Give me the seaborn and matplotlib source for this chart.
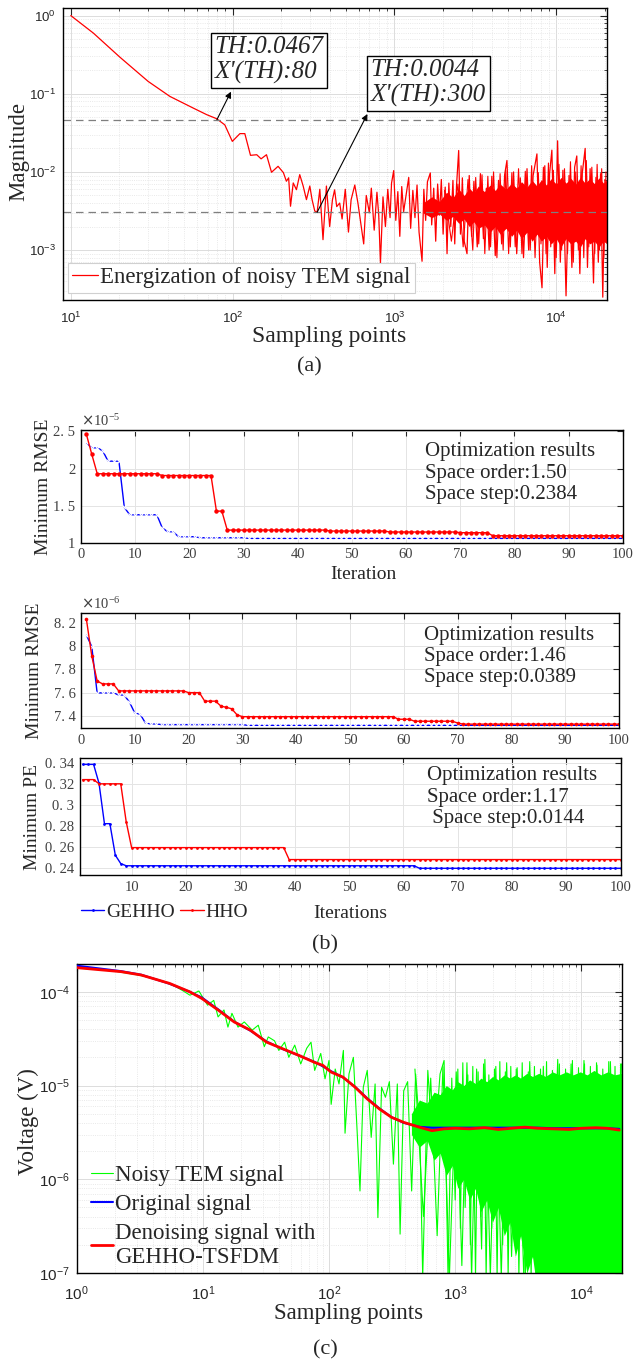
import numpy as np
import matplotlib
matplotlib.use("Agg")
import matplotlib.pyplot as plt
import seaborn as sns
from matplotlib.ticker import FixedLocator, FixedFormatter, LogLocator, NullFormatter

# ---------------- data: panel (a) ----------------
a_x_decay = [10, 13.8, 20.1, 30.1, 41, 57.1, 69.2, 79.6, 89.5, 99.6,
             111, 119, 129, 141, 150, 162, 174, 191, 206, 215,
             222, 228, 237, 248, 260, 273, 286, 300, 310, 322,
             333, 346, 362, 380, 398, 414, 427, 440, 459, 475,
             497, 520, 540, 569, 595]
a_y_decay = [1.0, 0.596, 0.294, 0.1436, 0.0924, 0.0656, 0.054, 0.048, 0.040, 0.0246,
             0.0309, 0.0309, 0.0163, 0.0166, 0.0147, 0.0166, 0.0099, 0.0118, 0.0098, 0.0076,
             0.0084, 0.00364, 0.00723, 0.00593, 0.00923, 0.0066, 0.00442, 0.0066, 0.0044, 0.00316,
             0.00305, 0.0060, 0.00136, 0.0066, 0.0020, 0.0044, 0.0059, 0.0036, 0.0040, 0.0025,
             0.0060, 0.0017, 0.0044, 0.0068, 0.0040]
a_x_noise = [620, 646, 670, 700, 720, 750, 780, 800, 820, 850,
             880, 910, 940, 960, 990, 1020, 1050, 1080, 1110, 1140,
             1180, 1226, 1260, 1300, 1340, 1380, 1420, 1482, 1520, 1560,
             1600, 1667, 1700, 1750, 1800, 1850, 1900, 1950, 2000, 2060,
             2115, 2170, 2230, 2300, 2360, 2420, 2496, 2560, 2630, 2700,
             2810, 2900, 3000, 3100, 3250, 3400, 3550, 3700, 3850, 4000,
             4200, 4400, 4600, 4800, 4960, 5200, 5450, 5700, 6000, 6280,
             6600, 6900, 7200, 7600, 7900, 8170, 8500, 8800, 9100, 9400,
             9800, 10200, 10600, 11000, 11500, 12000, 12500, 13000, 13400, 14000,
             14500, 15100, 15600, 16200, 17000, 17600, 18200, 18800, 19400, 20000]
a_y_noise = [0.0022, 0.0012, 0.0050, 0.0030, 0.0062, 0.0018, 0.0055, 0.0028, 0.00069, 0.0048,
             0.0020, 0.0060, 0.0026, 0.0072, 0.0104, 0.0024, 0.0056, 0.0015, 0.0065, 0.0031,
             0.0050, 0.0085, 0.0019, 0.0058, 0.0026, 0.0068, 0.0017, 0.00072, 0.0060, 0.0024,
             0.0075, 0.0097, 0.0021, 0.0062, 0.0013, 0.0070, 0.0028, 0.0080, 0.0016, 0.0064,
             0.0009, 0.0072, 0.0020, 0.0078, 0.0012, 0.0066, 0.0188, 0.0016, 0.0084, 0.0013,
             0.0009, 0.0090, 0.0015, 0.0076, 0.0011, 0.0095, 0.0014, 0.0062, 0.0010, 0.0088,
             0.00085, 0.0078, 0.0012, 0.0092, 0.0140, 0.0011, 0.0100, 0.0009, 0.0084, 0.0008,
             0.0110, 0.0010, 0.0090, 0.0170, 0.0007, 0.00033, 0.0120, 0.0006, 0.0095, 0.0190,
             0.0005, 0.0250, 0.0007, 0.0105, 0.00026, 0.0090, 0.0006, 0.0115, 0.0160, 0.0005,
             0.0098, 0.0200, 0.0006, 0.0110, 0.00038, 0.0085, 0.0007, 0.0095, 0.00025, 0.0080]
# second pass of spikes in the dense right part
a_x_noise2 = [2040, 2250, 2470, 2660, 2850, 3050, 3180, 3320, 3480, 3620,
              3780, 3930, 4100, 4300, 4500, 4700, 4880, 5080, 5320, 5580,
              5850, 6140, 6440, 6750, 7050, 7400, 7750, 8050, 8330, 8650,
              8950, 9250, 9600, 10000, 10400, 10800, 11250, 11750, 12250, 12750,
              13200, 13700, 14250, 14800, 15350, 15900, 16600, 17300, 17900, 18500,
              19100, 19700, 20300]
a_y_noise2 = [0.0058, 0.0013, 0.0070, 0.0011, 0.0080, 0.0010, 0.0085, 0.0012, 0.0092, 0.0009,
              0.0088, 0.0011, 0.0100, 0.0008, 0.0095, 0.0010, 0.0105, 0.0009, 0.0098, 0.0011,
              0.0110, 0.0009, 0.0102, 0.0010, 0.0120, 0.0008, 0.0098, 0.0012, 0.0115, 0.0009,
              0.0130, 0.0011, 0.0105, 0.0008, 0.0125, 0.0010, 0.0110, 0.0009, 0.0135, 0.0007,
              0.0100, 0.0010, 0.0120, 0.0008, 0.0140, 0.0011, 0.0115, 0.0009, 0.0125, 0.0010,
              0.0110, 0.0008, 0.0100]
# dense core of the noise (jagged envelope)
a_band_x = [1500, 1700, 1900, 2100, 2300, 2500, 2700, 2900, 3100, 3300,
            3600, 3900, 4200, 4500, 4900, 5300, 5700, 6100, 6600, 7100,
            7600, 8100, 8700, 9300, 10000, 10700, 11500, 12300, 13200, 14100,
            15100, 16100, 17200, 18400, 19600, 20600]
a_band_hi = [0.0040, 0.0048, 0.0042, 0.0055, 0.0047, 0.0060, 0.0050, 0.0062, 0.0054, 0.0066,
             0.0056, 0.0068, 0.0058, 0.0070, 0.0060, 0.0072, 0.0062, 0.0075, 0.0064, 0.0078,
             0.0066, 0.0080, 0.0068, 0.0082, 0.0070, 0.0085, 0.0072, 0.0083, 0.0070, 0.0085,
             0.0072, 0.0082, 0.0071, 0.0084, 0.0072, 0.0080]
a_band_lo = [0.0030, 0.0026, 0.0029, 0.0024, 0.0027, 0.0022, 0.0025, 0.0020, 0.0023, 0.0019,
             0.0021, 0.0017, 0.0020, 0.0016, 0.0019, 0.0015, 0.0018, 0.0014, 0.0017, 0.0013,
             0.0016, 0.0013, 0.0015, 0.0012, 0.0014, 0.0011, 0.0014, 0.0012, 0.0013, 0.0011,
             0.0014, 0.0012, 0.0013, 0.0011, 0.0013, 0.0012]
th_x = [80, 333]
th_y = [0.0467, 0.00305]
th_labels = ["TH:0.0467\nX'(TH):80", "TH:0.0044\nX'(TH):300"]

# ---------------- data: panel (b) (run-length: value, count) ----------------
iters = np.arange(1, 101)
b1_hho_v = [2.46, 2.19, 1.93, 1.906, 1.426, 1.17, 1.157, 1.144, 1.135, 1.094]   # x1e-5
b1_hho_n = [1, 1, 12, 10, 2, 19, 11, 13, 6, 25]
b1_ge_v = [2.336, 2.28, 2.24, 2.10, 1.475, 1.377, 1.20, 1.148, 1.081, 1.067, 1.058]
b1_ge_n = [1, 2, 1, 3, 1, 6, 1, 2, 4, 9, 70]
b2_hho_v = [8.23, 7.915, 7.70, 7.675, 7.615, 7.60, 7.527, 7.485, 7.474, 7.462,
            7.41, 7.394, 7.372, 7.355, 7.34, 7.33]                               # x1e-6
b2_hho_n = [1, 1, 1, 3, 13, 3, 3, 1, 1, 1, 1, 29, 3, 8, 1, 30]
b2_ge_v = [8.093, 7.995, 7.598, 7.58, 7.52, 7.425, 7.415, 7.338, 7.332, 7.326, 7.32]
b2_ge_n = [1, 1, 4, 2, 1, 1, 1, 1, 2, 16, 70]
b3_hho_v = [0.3245, 0.3205, 0.2845, 0.2597, 0.2483]
b3_hho_n = [3, 5, 1, 29, 62]
b3_ge_v = [0.339, 0.321, 0.2825, 0.2525, 0.2445, 0.2424, 0.2400]
b3_ge_n = [3, 1, 2, 1, 1, 54, 38]
b_texts = ["Optimization results\nSpace order:1.50\nSpace step:0.2384",
           "Optimization results\nSpace order:1.46\nSpace step:0.0389",
           "Optimization results\nSpace order:1.17\n Space step:0.0144"]

# ---------------- data: panel (c) ----------------
c_x = [1, 2.25, 3.25, 5.44, 7.87, 9.8, 13.2, 17.7, 23.8, 31.9,
       42.9, 57.5, 77.3, 89.5, 104, 129, 161, 201, 251, 313,
       391, 525, 655, 817, 1000, 1300, 1706, 2200, 2800, 3565,
       4500, 6000, 8000, 10000, 13000, 16000, 20000]
c_red = [1.81e-4, 1.64e-4, 1.51e-4, 1.23e-4, 1.0e-4, 8.5e-5, 6.4e-5, 4.77e-5, 3.9e-5, 2.91e-5,
         2.47e-5, 2.1e-5, 1.76e-5, 1.64e-5, 1.39e-5, 1.23e-5, 9.6e-6, 7.2e-6, 5.62e-6, 4.58e-6,
         4.05e-6, 3.58e-6, 3.3e-6, 3.45e-6, 3.5e-6, 3.45e-6, 3.55e-6, 3.4e-6, 3.5e-6, 3.6e-6,
         3.5e-6, 3.45e-6, 3.4e-6, 3.5e-6, 3.55e-6, 3.5e-6, 3.35e-6]
c_blue = [1.9e-4, 1.66e-4, 1.52e-4, 1.22e-4, 1.0e-4, 8.7e-5, 6.5e-5, 4.8e-5, 3.85e-5, 2.95e-5,
          2.45e-5, 2.1e-5, 1.78e-5, 1.6e-5, 1.42e-5, 1.22e-5, 9.7e-6, 7.3e-6, 5.7e-6, 4.6e-6,
          4.0e-6, 3.62e-6, 3.55e-6, 3.55e-6, 3.55e-6, 3.55e-6, 3.55e-6, 3.55e-6, 3.55e-6, 3.55e-6,
          3.55e-6, 3.5e-6, 3.5e-6, 3.5e-6, 3.5e-6, 3.5e-6, 3.45e-6]
c_green_x = [1, 1.5, 2, 3, 4, 5, 6, 7, 7.9, 9.3,
             10.9, 12.2, 13.2, 14.7, 15.8, 17, 19, 21.3, 24.6, 27.5,
             30.7, 33, 37, 40, 44.5, 48, 53.5, 59.7, 66.6, 72,
             77, 86, 93, 100, 104, 112, 120, 130, 134, 144,
             156, 167, 176, 187, 201, 216, 232, 244, 261, 280,
             301, 324, 348, 366, 391, 420, 452, 486, 525, 553,
             607, 677, 759, 817, 878]
c_green_y = [1.80e-4, 1.72e-4, 1.66e-4, 1.52e-4, 1.40e-4, 1.27e-4, 1.15e-4, 1.02e-4, 9.2e-5, 1.02e-4,
             7.2e-5, 8.1e-5, 5.4e-5, 6.4e-5, 4.2e-5, 5.9e-5, 4.2e-5, 4.77e-5, 3.9e-5, 4.4e-5,
             2.6e-5, 3.3e-5, 3.0e-5, 2.37e-5, 2.9e-5, 2.0e-5, 2.7e-5, 1.7e-5, 2.5e-5, 2.9e-5,
             1.45e-5, 2.2e-5, 1.18e-5, 1.85e-5, 6.3e-6, 1.5e-5, 1.04e-5, 2.37e-5, 3.1e-6, 1.33e-5,
             2.0e-5, 3.3e-6, 7.5e-7, 9.6e-6, 1.45e-5, 2.8e-6, 1.04e-5, 3.9e-7, 9.6e-6, 7.5e-6,
             1.1e-5, 1.45e-6, 1.04e-5, 2.6e-7, 8.8e-6, 1.1e-5, 7.5e-7, 1.33e-5, 3.3e-6, 9e-8,
             1.45e-5, 1.7e-6, 1.33e-5, 1.85e-5, 9e-8]
c_noise_x = [940, 1000, 1050, 1100, 1150, 1200, 1260, 1320, 1380, 1450,
             1520, 1600, 1680, 1760, 1850, 1950, 2050, 2150, 2260, 2380,
             2500, 2630, 2760, 2900, 3050, 3200, 3400, 3600, 3800, 4000,
             4250, 4500, 4750, 5000, 5300, 5600, 5900, 6300, 6700, 7100,
             7500, 8000, 8500, 9000, 9500, 10000, 10600, 11200, 11800, 12500,
             13200, 14000, 14800, 15600, 16500, 17500, 18500, 19500, 20500]
c_noise_y = [1.2e-5, 6e-7, 1.5e-5, 3e-7, 1.75e-5, 5e-7, 1.3e-5, 2e-7, 1.6e-5, 9e-8,
             1.4e-5, 4e-7, 1.7e-5, 9e-8, 1.3e-5, 3e-7, 1.5e-5, 9e-8, 1.8e-5, 2e-7,
             1.4e-5, 9e-8, 1.6e-5, 3e-7, 1.5e-5, 9e-8, 1.75e-5, 9e-8, 1.4e-5, 9e-8,
             1.6e-5, 9e-8, 1.5e-5, 9e-8, 1.8e-5, 9e-8, 1.45e-5, 9e-8, 1.7e-5, 9e-8,
             1.5e-5, 9e-8, 1.85e-5, 9e-8, 1.55e-5, 9e-8, 1.7e-5, 9e-8, 1.6e-5, 9e-8,
             1.75e-5, 9e-8, 1.5e-5, 9e-8, 1.8e-5, 9e-8, 1.6e-5, 9e-8, 1.7e-5]
c_noise2_x = [480, 560, 640, 720, 800, 900, 1020, 1130, 1240, 1350,
              1480, 1620, 1720, 1900, 2100, 2320, 2560, 2800, 3100, 3500,
              3900, 4400, 5000, 5700, 6500, 7300, 8300, 9300, 10500, 11800,
              13300, 15000, 17000, 19000, 20800]
c_noise2_y = [1.5e-5, 4e-7, 1.2e-5, 2.5e-7, 1.6e-5, 9e-8, 1.4e-5, 1.2e-7, 1.75e-5, 9e-8,
              1.5e-5, 1.8e-7, 1.9e-5, 9e-8, 1.6e-5, 9e-8, 1.75e-5, 1.5e-7, 1.55e-5, 9e-8,
              1.8e-5, 9e-8, 1.6e-5, 9e-8, 1.9e-5, 9e-8, 1.7e-5, 9e-8, 1.85e-5, 9e-8,
              1.65e-5, 9e-8, 1.8e-5, 9e-8, 1.7e-5]
c_band_x = [450, 520, 600, 680, 760, 850, 950, 1050, 1170, 1300,
            1450, 1600, 1780, 1980, 2200, 2450, 2720, 3000, 3300, 3700,
            4100, 4600, 5200, 5900, 6700, 7600, 8600, 9800, 11100, 12600,
            14300, 16200, 18400, 20900]
c_band_hi = [5e-6, 7e-6, 6.5e-6, 8.5e-6, 8e-6, 1.0e-5, 9e-6, 1.1e-5, 1.0e-5, 1.15e-5,
             1.05e-5, 1.2e-5, 1.1e-5, 1.25e-5, 1.15e-5, 1.3e-5, 1.2e-5, 1.3e-5, 1.2e-5, 1.35e-5,
             1.25e-5, 1.35e-5, 1.25e-5, 1.4e-5, 1.3e-5, 1.4e-5, 1.3e-5, 1.4e-5, 1.3e-5, 1.45e-5,
             1.3e-5, 1.4e-5, 1.3e-5, 1.35e-5]
c_band_lo = [3e-6, 2.2e-6, 2.6e-6, 1.6e-6, 1.9e-6, 1.1e-6, 1.4e-6, 8e-7, 1.0e-6, 6e-7,
             8e-7, 4.5e-7, 6e-7, 3.5e-7, 5e-7, 2.5e-7, 3.5e-7, 1.5e-7, 2.5e-7, 1.0e-7,
             1.5e-7, 5e-8, 8e-8, 5e-8, 5e-8, 5e-8, 5e-8, 5e-8, 5e-8, 5e-8,
             5e-8, 5e-8, 5e-8, 5e-8]

# ---------------- style ----------------
sns.set_theme(style="white")
plt.rcParams['font.family'] = ['Liberation Serif', 'DejaVu Serif']
plt.rcParams['axes.edgecolor'] = 'black'
plt.rcParams['axes.facecolor'] = 'white'

W, H = 633, 1363
fig = plt.figure(figsize=(W / 100, H / 100), dpi=100)
fig.patch.set_facecolor('white')


def rect(l, r, t, b):
    return [l / W, 1 - b / H, (r - l) / W, (b - t) / H]


def log_style(ax, lsize):
    ax.xaxis.set_minor_locator(LogLocator(base=10, subs=np.arange(2, 10), numticks=30))
    ax.yaxis.set_minor_locator(LogLocator(base=10, subs=np.arange(2, 10), numticks=30))
    ax.xaxis.set_minor_formatter(NullFormatter())
    ax.yaxis.set_minor_formatter(NullFormatter())
    ax.tick_params(which='both', direction='in', top=True, right=True,
                   labelfontfamily='Liberation Sans', labelsize=lsize, labelcolor='#262626')
    ax.tick_params(which='major', length=5, width=0.8, pad=5)
    ax.tick_params(axis='x', which='major', pad=8)
    ax.tick_params(which='minor', length=2.5, width=0.6)
    ax.grid(True, which='major', color='#dcdcdc', lw=0.7)
    ax.grid(True, which='minor', color='#e2e2e2', lw=0.6, ls=':')
    for s in ax.spines.values():
        s.set_color('black')
        s.set_linewidth(1.0)


# ---------------- panel (a) ----------------
axA = fig.add_axes(rect(62.6, 607, 8, 300))
axA.set_xscale('log')
axA.set_yscale('log')
axA.fill_between(a_band_x, a_band_lo, a_band_hi, color='red', lw=0, zorder=1.5)
sns.lineplot(x=a_x_noise2, y=a_y_noise2, ax=axA, color='red', lw=0.8,
             estimator=None, sort=False, zorder=1.9)
sns.lineplot(x=a_x_decay + a_x_noise, y=a_y_decay + a_y_noise, ax=axA, color='red',
             lw=0.9, estimator=None, sort=False, label='Energization of noisy TEM signal', zorder=2)
for yv in th_y:
    axA.axhline(yv, color='#7f7f7f', ls=(0, (6, 4)), lw=0.9, zorder=2.5)
axA.set_xlim(8.9, 20600)
axA.set_ylim(2.3e-4, 1.25)
log_style(axA, 9.5)
axA.set_xlabel('Sampling points', fontsize=17)
axA.set_ylabel('Magnitude', fontsize=16.5)
axA.xaxis.set_label_coords(0.489, -0.088)
axA.yaxis.set_label_coords(-0.0617, 0.507)
hA, lA = axA.get_legend_handles_labels()
leg = axA.legend(hA[-1:], lA[-1:], loc='lower left', bbox_to_anchor=(0.0096, 0.024),
                 borderaxespad=0, fontsize=16.5, borderpad=0.2, handlelength=1.1,
                 handletextpad=0.1, frameon=True, fancybox=False, framealpha=1)
leg.get_frame().set_edgecolor('#d0d0d0')
leg.get_frame().set_linewidth(0.8)
# annotation boxes and arrows
box_pos = [(0.279, 0.821), (0.566, 0.743)]
head_pos = [(0.3093, 0.7134), (0.5599, 0.637)]
for (tx, ty), (hx, hy), xv, yv, lab in zip(box_pos, head_pos, th_x, th_y, th_labels):
    axA.annotate('', xy=(hx, hy), xycoords='axes fraction', xytext=(xv, yv), textcoords='data',
                 arrowprops=dict(arrowstyle='-|>', color='black', lw=0.8, shrinkA=0, shrinkB=0,
                                 mutation_scale=9), zorder=5)
    axA.text(tx, ty, lab, transform=axA.transAxes, ha='left', va='center', fontsize=18,
             fontstyle='italic', linespacing=1.15, zorder=6,
             bbox=dict(boxstyle='square,pad=0.15', fc='white', ec='black', lw=1.0))
fig.text(309 / W, 1 - 367 / H, '(a)', ha='center', va='center', fontsize=16)


# ---------------- panel (b) ----------------
def b_style(ax, yticks, ylabels, ylim, xticks, xlim):
    ax.set_xlim(*xlim)
    ax.set_ylim(*ylim)
    ax.yaxis.set_major_locator(FixedLocator(yticks))
    ax.yaxis.set_major_formatter(FixedFormatter(ylabels))
    ax.xaxis.set_major_locator(FixedLocator(xticks))
    ax.tick_params(direction='in', top=True, right=True, length=4, width=0.8,
                   labelsize=10.5, labelcolor='#404040', pad=4)
    ax.grid(True, color='#e4e4e4', lw=0.7)
    for s in ax.spines.values():
        s.set_color('black')
        s.set_linewidth(1.0)


axB1 = fig.add_axes(rect(81, 622.7, 430, 542.7))
sns.lineplot(x=iters, y=np.repeat(b1_ge_v, b1_ge_n), ax=axB1, color='blue', lw=1.0,
             marker='x', markersize=3, markeredgewidth=0.8, estimator=None)
sns.lineplot(x=iters, y=np.repeat(b1_hho_v, b1_hho_n), ax=axB1, color='red', lw=1.0,
             marker='o', markersize=3.2, markeredgewidth=0, estimator=None)
b_style(axB1, [1, 1.5, 2, 2.5], ['1', '1. 5', '2', '2. 5'], (1.0, 2.52),
        list(range(0, 101, 10)), (0, 100))
axB1.set_ylabel('Minimum RMSE', fontsize=14)
axB1.yaxis.set_label_coords(-0.0535, 0.5)
axB1.set_xlabel('Iteration', fontsize=14)
axB1.xaxis.set_label_coords(0.522, -0.205)
axB1.text(0.0, 1.0 + 9 / 112.7, r'$\times\mathdefault{10^{-5}}$', transform=axB1.transAxes,
          ha='left', va='center', fontsize=10.5, color='#404040')
axB1.text(0.635, 0.618, b_texts[0], transform=axB1.transAxes, ha='left', va='center',
          fontsize=15, linespacing=1.2)

axB2 = fig.add_axes(rect(81, 619, 612.7, 728))
sns.lineplot(x=iters, y=np.repeat(b2_ge_v, b2_ge_n), ax=axB2, color='blue', lw=1.0,
             marker='x', markersize=2.6, markeredgewidth=0.8, estimator=None)
sns.lineplot(x=iters, y=np.repeat(b2_hho_v, b2_hho_n), ax=axB2, color='red', lw=1.0,
             marker='o', markersize=2.6, markeredgewidth=0, estimator=None)
b_style(axB2, [7.4, 7.6, 7.8, 8.0, 8.2], ['7. 4', '7. 6', '7. 8', '8', '8. 2'], (7.297, 8.285),
        list(range(0, 101, 10)), (0, 100))
axB2.set_ylabel('Minimum RMSE', fontsize=14)
axB2.yaxis.set_label_coords(-0.0706, 0.5)
axB2.set_xlabel('')
axB2.text(0.0, 1.0 + 8.7 / 115.3, r'$\times\mathdefault{10^{-6}}$', transform=axB2.transAxes,
          ha='left', va='center', fontsize=10.5, color='#404040')
axB2.text(0.6375, 0.618, b_texts[1], transform=axB2.transAxes, ha='left', va='center',
          fontsize=15, linespacing=1.15)

axB3 = fig.add_axes(rect(80, 620.5, 758.3, 875))
sns.lineplot(x=iters, y=np.repeat(b3_ge_v, b3_ge_n), ax=axB3, color='blue', lw=1.0,
             marker='.', markersize=4, markeredgewidth=0, estimator=None, label='GEHHO')
sns.lineplot(x=iters, y=np.repeat(b3_hho_v, b3_hho_n), ax=axB3, color='red', lw=1.0,
             marker='.', markersize=4, markeredgewidth=0, estimator=None, label='HHO')
b_style(axB3, [0.24, 0.26, 0.28, 0.30, 0.32, 0.34],
        ['0. 24', '0. 26', '0. 28', '0. 3', '0. 32', '0. 34'], (0.2336, 0.3448),
        list(range(10, 101, 10)), (0.5, 100))
axB3.set_ylabel('Minimum PE', fontsize=14)
axB3.yaxis.set_label_coords(-0.072, 0.5)
axB3.set_xlabel('Iterations', fontsize=14)
axB3.xaxis.set_label_coords(0.4995, -0.255)
axB3.text(0.642, 0.668, b_texts[2], transform=axB3.transAxes, ha='left', va='center',
          fontsize=15, linespacing=1.15)
hB, lB = axB3.get_legend_handles_labels()
axB3.get_legend().remove()
fig.legend(hB, lB, loc='center left', bbox_to_anchor=(81 / W, 1 - 911.7 / H), ncol=2,
           frameon=False, fontsize=14, borderpad=0, borderaxespad=0, handlelength=1.2,
           handletextpad=0.08, columnspacing=0.3)
fig.text(325 / W, 1 - 945 / H, '(b)', ha='center', va='center', fontsize=16)

# ---------------- panel (c) ----------------
axC = fig.add_axes(rect(76.7, 621.7, 964, 1273))
axC.set_xscale('log')
axC.set_yscale('log')
axC.fill_between(c_band_x, c_band_lo, c_band_hi, color='#00ff00', lw=0, zorder=1.5)
sns.lineplot(x=c_noise2_x, y=c_noise2_y, ax=axC, color='#00ff00', lw=0.8,
             estimator=None, sort=False, zorder=1.9)
sns.lineplot(x=c_green_x + c_noise_x, y=c_green_y + c_noise_y, ax=axC, color='#00ff00', lw=0.8,
             estimator=None, sort=False, label='Noisy TEM signal', zorder=2)
sns.lineplot(x=c_x, y=c_blue, ax=axC, color='blue', lw=1.5, estimator=None,
             label='Original signal', zorder=3)
sns.lineplot(x=c_x, y=c_red, ax=axC, color='red', lw=2.0, estimator=None,
             label='Denoising signal with\nGEHHO-TSFDM', zorder=4)
axC.set_xlim(1, 20900)
axC.set_ylim(1e-7, 1.98e-4)
log_style(axC, 11)
axC.set_xlabel('Sampling points', fontsize=16.5)
axC.set_ylabel('Voltage (V)', fontsize=16.5)
axC.xaxis.set_label_coords(0.498, -0.098)
axC.yaxis.set_label_coords(-0.069, 0.489)
hC, lC = axC.get_legend_handles_labels()
axC.legend(hC[-3:], lC[-3:], loc='lower left', bbox_to_anchor=(0.026, 0.016), borderaxespad=0,
           borderpad=0, fontsize=16.5, frameon=False, handlelength=0.95, handletextpad=0.1,
           labelspacing=0.35)
fig.text(325 / W, 1 - 1350 / H, '(c)', ha='center', va='center', fontsize=16)

fig.savefig('out.png', dpi=100, facecolor='white')
